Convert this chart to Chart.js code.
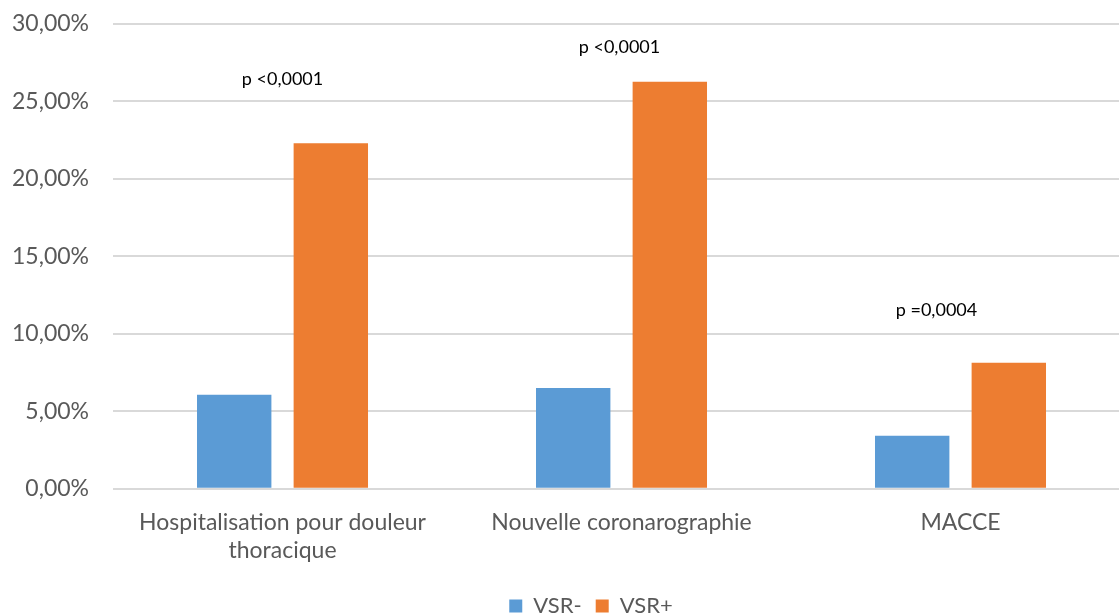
<!DOCTYPE html>
<html>
<head>
<meta charset="utf-8">
<script src="https://cdn.jsdelivr.net/npm/chart.js@4"></script>
<style>
  html, body { margin: 0; padding: 0; background: #fff; overflow: hidden; }
  #wrap { width: 1130px; height: 636px; margin-top: -14px; }
</style>
</head>
<body>
<div id="wrap"><canvas id="chart"></canvas></div>
<script>
const categories = [["Hospitalisation pour douleur", "thoracique"], "Nouvelle coronarographie", "MACCE"];
const vsrMinus = [6.06, 6.5, 3.42];
const vsrPlus = [22.3, 26.26, 8.13];
const pValues = ["p <0,0001", "p <0,0001", "p =0,0004"];

// where each p-value label sits: y in data units, x shift in px from category centre
const pLabelPos = [
  { y: 26.45, dx: 0 },
  { y: 28.5, dx: -2 },
  { y: 11.5, dx: -24 },
];

const fontFamily = "Lato, 'Open Sans', sans-serif";
const textGray = "#595959";

// draws the p-value text above each group
const pLabels = {
  id: "pLabels",
  afterDatasetsDraw(chart) {
    const { ctx, scales } = chart;
    ctx.save();
    ctx.font = "18px " + fontFamily;
    ctx.fillStyle = "#000";
    ctx.textAlign = "center";
    ctx.textBaseline = "middle";
    pValues.forEach((txt, i) => {
      const x = scales.x.getPixelForValue(i) + pLabelPos[i].dx;
      const y = scales.y.getPixelForValue(pLabelPos[i].y);
      ctx.fillText(txt, x, y);
    });
    ctx.restore();
  },
};

// the legend sits a bit right of the centre and low in the original
const legendShift = {
  id: "legendShift",
  afterLayout(chart) {
    chart.legend.left += 32;
    chart.legend.right += 32;
    chart.legend.top += 5;
    chart.legend.bottom += 5;
  },
};

new Chart(document.getElementById("chart"), {
  type: "bar",
  data: {
    labels: categories,
    datasets: [
      { label: "VSR-", data: vsrMinus, backgroundColor: "#5B9BD5" },
      { label: "VSR+", data: vsrPlus, backgroundColor: "#ED7D31" },
    ],
  },
  options: {
    responsive: true,
    maintainAspectRatio: false,
    animation: false,
    layout: { padding: { top: 0, left: -12, right: 0, bottom: 0 } },
    datasets: { bar: { categoryPercentage: 0.57, barPercentage: 0.77 } },
    scales: {
      x: {
        grid: { display: false },
        border: { display: false },
        ticks: {
          color: textGray,
          font: { family: fontFamily, size: 23 },
          maxRotation: 0,
          padding: 12,
        },
      },
      y: {
        min: 0,
        max: 30,
        border: { display: false },
        grid: { color: "#d9d9d9", lineWidth: 2, drawTicks: false },
        ticks: {
          stepSize: 5,
          color: textGray,
          font: { family: fontFamily, size: 23 },
          padding: 24,
          callback: (v) => v.toFixed(2).replace(".", ",") + "%",
        },
      },
    },
    plugins: {
      legend: {
        position: "bottom",
        labels: {
          color: textGray,
          font: { family: fontFamily, size: 22 },
          boxWidth: 13,
          boxHeight: 13,
          padding: 14,
        },
      },
      tooltip: { enabled: false },
    },
  },
  plugins: [pLabels, legendShift],
});
</script>
</body>
</html>
